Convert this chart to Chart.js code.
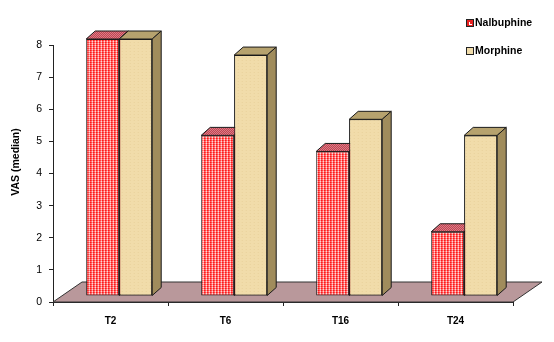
<!DOCTYPE html>
<html><head><meta charset="utf-8">
<script src="https://cdn.jsdelivr.net/npm/chart.js@4/dist/chart.umd.min.js"></script>
<style>html,body{margin:0;padding:0;background:#fff}canvas{display:block}</style>
</head><body>
<canvas id="c" width="554" height="342"></canvas>
<script>
const categories = ['T2', 'T6', 'T16', 'T24'];
const seriesNames = ['Nalbuphine', 'Morphine'];
const nalbuphine = [8, 5, 4.5, 2];
const morphine = [8, 7.5, 5.5, 5];
const yMin = 0, yMax = 8, yStep = 1;
const yTitle = 'VAS (median)';

const FONT = "'Liberation Sans', Arial, sans-serif";
const canvas = document.getElementById('c');
const mainCtx = canvas.getContext('2d');

function makePattern(w, h, fn) {
  const c = document.createElement('canvas');
  c.width = w; c.height = h;
  const g = c.getContext('2d');
  for (let y = 0; y < h; y++) for (let x = 0; x < w; x++) {
    g.fillStyle = fn(x, y); g.fillRect(x, y, 1, 1);
  }
  return mainCtx.createPattern(c, 'repeat');
}
const nalbFront = makePattern(3, 2, (x, y) => {
  const wc = x === 2, wr = y === 1;
  if (wc && wr) return '#ffffff';
  if (wc) return '#ffb4b4';
  if (wr) return '#ff5a5a';
  return '#ff1818';
});
const nalbTop = makePattern(2, 2, (x, y) => ((x + y) % 2 ? '#e89aa2' : '#b42838'));
const morphFront = makePattern(4, 3, (x, y) => (x === 1 && y === 0 ? '#e9d29c' : '#f1dcaa'));
const morphTop = '#b6a26e';
const morphSide = '#a08c5c';
const nalbSide = '#b01c2a';

const DEPTH = { dx: 9, dy: -8, shiftX: 8.7, shiftY: -6, floorDx: 29, floorDy: -20 };

function drawFaces(ctx, bar, topFill, sideFill) {
  const p = bar.getProps(['x', 'y', 'base', 'width'], true);
  const l = p.x - p.width / 2, r = p.x + p.width / 2, t = p.y, b = p.base;
  const { dx, dy } = DEPTH;
  ctx.lineWidth = 1;
  ctx.strokeStyle = '#1a1a1a';
  ctx.lineJoin = 'miter';
  ctx.beginPath();
  ctx.moveTo(l, t); ctx.lineTo(l + dx, t + dy); ctx.lineTo(r + dx, t + dy); ctx.lineTo(r, t); ctx.closePath();
  ctx.fillStyle = topFill; ctx.fill(); ctx.stroke();
  ctx.beginPath();
  ctx.moveTo(r, t); ctx.lineTo(r + dx, t + dy); ctx.lineTo(r + dx, b + dy); ctx.lineTo(r, b); ctx.closePath();
  ctx.fillStyle = sideFill; ctx.fill(); ctx.stroke();
}

const threeD = {
  id: 'threeD',
  beforeDatasetsDraw(chart) {
    const { ctx, chartArea: a } = chart;
    const B = chart.scales.y.getPixelForValue(0);
    ctx.save();
    ctx.beginPath();
    ctx.moveTo(a.left, B);
    ctx.lineTo(a.right, B);
    ctx.lineTo(a.right + DEPTH.floorDx, B + DEPTH.floorDy);
    ctx.lineTo(a.left + DEPTH.floorDx, B + DEPTH.floorDy);
    ctx.closePath();
    ctx.fillStyle = '#b9989b';
    ctx.fill();
    ctx.lineWidth = 1;
    ctx.strokeStyle = '#333';
    ctx.stroke();
    ctx.restore();
    ctx.save();
    ctx.translate(DEPTH.shiftX, DEPTH.shiftY);
  },
  afterDatasetsDraw(chart) {
    const ctx = chart.ctx;
    const m0 = chart.getDatasetMeta(0), m1 = chart.getDatasetMeta(1);
    m0.data.forEach(bar => drawFaces(ctx, bar, nalbTop, nalbSide));
    m1.data.forEach(bar => { bar.draw(ctx); drawFaces(ctx, bar, morphTop, morphSide); });
    ctx.restore();
  },
  afterDraw(chart) {
    const ctx = chart.ctx;
    ctx.save();
    // y axis title
    ctx.translate(16, 162);
    ctx.rotate(-Math.PI / 2);
    ctx.font = 'bold 10.5px ' + FONT;
    ctx.fillStyle = '#000';
    ctx.textAlign = 'center';
    ctx.textBaseline = 'middle';
    ctx.fillText(yTitle, 0, 0);
    ctx.restore();
    // legend
    ctx.save();
    const fills = [nalbFront, morphFront];
    const ys = [23, 51];
    chart.data.datasets.forEach((ds, i) => {
      ctx.fillStyle = i === 0 ? '#e82020' : '#f1dcaa';
      ctx.fillRect(467, ys[i] - 3, 6, 6);
      if (i === 0) { ctx.fillStyle = '#fff'; ctx.fillRect(469, ys[i] - 1, 3, 3); ctx.fillStyle = '#e82020'; ctx.fillRect(470, ys[i] - 1, 2, 2); }
      ctx.strokeStyle = '#222';
      ctx.lineWidth = 1;
      ctx.strokeRect(466.5, ys[i] - 3.5, 7, 7);
      ctx.fillStyle = '#000';
      ctx.font = 'bold 10.5px ' + FONT;
      ctx.textAlign = 'left';
      ctx.textBaseline = 'middle';
      ctx.fillText(ds.label, 475, ys[i] + 0.5);
    });
    ctx.restore();
  }
};

new Chart(canvas, {
  type: 'bar',
  data: {
    labels: categories,
    datasets: [
      { label: seriesNames[0], data: nalbuphine, backgroundColor: nalbFront, borderColor: '#1a1a1a', borderWidth: 1, borderSkipped: false, clip: false },
      { label: seriesNames[1], data: morphine, backgroundColor: morphFront, borderColor: '#1a1a1a', borderWidth: 1, borderSkipped: false, clip: false }
    ]
  },
  options: {
    responsive: false,
    animation: false,
    devicePixelRatio: 1,
    layout: { padding: { top: 45, right: 41, left: 0, bottom: 0 } },
    datasets: { bar: { categoryPercentage: 0.574, barPercentage: 1 } },
    plugins: { legend: { display: false }, tooltip: { enabled: false } },
    scales: {
      x: {
        grid: { drawOnChartArea: false, drawTicks: true, tickLength: 4, color: '#222', offset: true },
        border: { display: true, color: '#222', width: 1 },
        ticks: { color: '#000', font: { family: FONT, size: 10, weight: 'bold' }, padding: 9 },
        afterFit(s) { s.height = 40; }
      },
      y: {
        min: yMin, max: yMax,
        grid: { drawOnChartArea: false, drawTicks: true, tickLength: 4, color: '#222' },
        border: { display: true, color: '#222', width: 1 },
        ticks: { stepSize: yStep, color: '#000', font: { family: FONT, size: 10.5 }, padding: 7 },
        afterFit(s) { s.width = 53; }
      }
    }
  },
  plugins: [threeD]
});
</script>
</body></html>
